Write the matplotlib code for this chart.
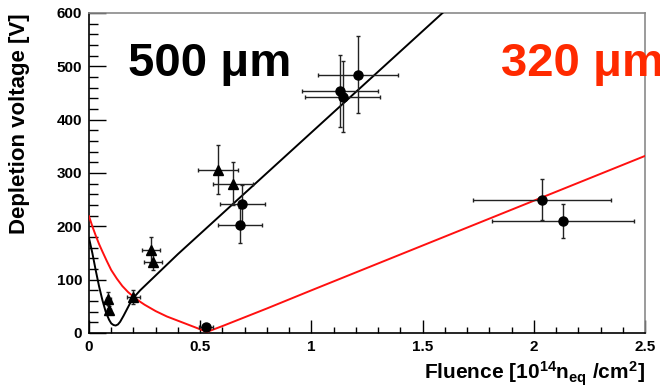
import numpy as np
import matplotlib
matplotlib.use("Agg")
import matplotlib.pyplot as plt
from matplotlib.ticker import MultipleLocator

plt.rcParams['font.family'] = ['Liberation Sans', 'DejaVu Sans']
plt.rcParams['mathtext.fontset'] = 'custom'
plt.rcParams['mathtext.rm'] = 'Liberation Sans:bold'
plt.rcParams['mathtext.it'] = 'Liberation Sans:bold'
plt.rcParams['mathtext.bf'] = 'Liberation Sans:bold'

# measured points, triangles (500 um)
tri_x = [0.087, 0.09, 0.2, 0.279, 0.289, 0.579, 0.647]
tri_y = [64, 43, 68, 156, 134, 306, 280]
tri_xerr = [0.01, 0.01, 0.03, 0.04, 0.04, 0.09, 0.09]
tri_yerr = [12, 8, 13, 24, 16, 46, 40]

# measured points, circles
circ_x = [0.526, 0.678, 0.69, 1.129, 1.14, 1.208, 2.038, 2.13]
circ_y = [11, 202, 241, 454, 443, 484, 250, 210]
circ_xerr = [0.03, 0.1, 0.1, 0.17, 0.17, 0.18, 0.31, 0.32]
circ_yerr = [4, 33, 36, 68, 67, 72, 39, 32]

# fit curves
fit500_x = [0, 0.015, 0.03, 0.045, 0.06, 0.075, 0.09, 0.1, 0.11, 0.12, 0.13, 0.14,
            0.155, 0.17, 0.185, 0.2, 0.23, 0.27, 0.32, 0.4, 0.5, 0.65, 0.8, 1.0,
            1.2, 1.4, 1.6]
fit500_y = [178, 150, 118, 88, 62, 40, 25, 18, 15, 14, 16, 21,
            32, 44, 56, 66, 80, 96, 116, 148, 186, 243, 300, 376,
            452, 528, 604]
fit320_x = [0, 0.015, 0.03, 0.045, 0.06, 0.08, 0.1, 0.125, 0.15, 0.175, 0.2, 0.225,
            0.25, 0.275, 0.3, 0.35, 0.4, 0.45, 0.5, 0.53, 0.6, 0.8, 1.0, 1.5, 2.0, 2.5]
fit320_y = [219, 200, 183, 167, 153, 135, 118, 102, 88, 77, 68, 60,
            53, 47, 41, 31, 23, 15, 7, 2, 13, 46, 80, 164, 248, 332]

fig = plt.figure(figsize=(6.6, 3.9), dpi=100)
ax = fig.add_axes([89/660, 1-333/390, 556/660, 320/390])

ax.plot(fit500_x, fit500_y, color='black', lw=1.4, zorder=3)
ax.plot(fit320_x, fit320_y, color='#ff1010', lw=1.4, zorder=3)

ax.errorbar(tri_x, tri_y, xerr=tri_xerr, yerr=tri_yerr, fmt='^', color='black',
            ms=6.5, ecolor='#222222', elinewidth=1, capsize=1.5, zorder=4)
ax.errorbar(circ_x, circ_y, xerr=circ_xerr, yerr=circ_yerr, fmt='o', color='black',
            ms=6.5, ecolor='#222222', elinewidth=1, capsize=1.5, zorder=4)

ax.set_xlim(0, 2.5)
ax.set_ylim(0, 600)
ax.xaxis.set_major_locator(MultipleLocator(0.5))
ax.xaxis.set_minor_locator(MultipleLocator(0.1))
ax.yaxis.set_major_locator(MultipleLocator(100))
ax.yaxis.set_minor_locator(MultipleLocator(20))
ax.set_xticks([0, 0.5, 1, 1.5, 2, 2.5], ['0', '0.5', '1', '1.5', '2', '2.5'])

ax.tick_params(axis='y', which='major', direction='in', length=12, width=1, pad=5)
ax.tick_params(axis='y', which='minor', direction='in', length=6.5, width=1)
ax.tick_params(axis='x', which='major', direction='in', length=9.5, width=1, pad=5)
ax.tick_params(axis='x', which='minor', direction='in', length=4.5, width=1)
for lab in ax.get_xticklabels() + ax.get_yticklabels():
    lab.set_fontsize(11)
    lab.set_fontweight('bold')

for s in ['left', 'bottom']:
    ax.spines[s].set_color('black')
    ax.spines[s].set_linewidth(1.2)
for s in ['top', 'right']:
    ax.spines[s].set_color('#8a8a8a')
    ax.spines[s].set_linewidth(1.2)

ax.text(0.175, 482, '500 μm', fontsize=34, fontweight='bold', color='black',
        va='baseline', ha='left')
# the reference clips this label at the right edge of the figure
ax.text(1.852, 482, '320 μm', fontsize=34, fontweight='bold', color='#ff2a00',
        va='baseline', ha='left', clip_on=False)

fig.text(20/660, 1-124/390, 'Depletion voltage [V]', rotation=90, fontsize=16,
         fontweight='bold', ha='center', va='center')
fig.text(645/660, 1-380/390, r'Fluence [10$^{14}$n$_{eq}$ /cm$^{2}$]', fontsize=15,
         fontweight='bold', ha='right', va='baseline')

fig.savefig('out.png', dpi=100)
